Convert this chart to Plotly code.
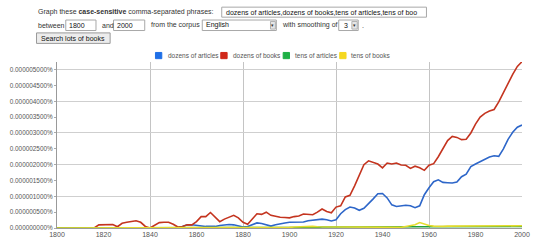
import plotly.graph_objects as go

# ---- data (values in units of 1e-6 percent) ----
years = list(range(1800, 2001, 2))

dozens_of_articles = [
    0, 0, 0, 0, 0, 0, 0, 0, 0, 0,            # 1800-1818
    0, 0, 0, 0, 0, 0, 0, 0, 0, 0,            # 1820-1838
    0, 0, 0, 0, 0, 0, 0, 0.05, 0.1, 0.1,     # 1840-1858
    0.08, 0.05, 0.05, 0.05, 0.05, 0.08, 0.1, 0.11, 0.1, 0.07,   # 1860-1878
    0.03, 0.05, 0.1, 0.16, 0.14, 0.1, 0.06, 0.1, 0.14, 0.16,    # 1880-1898
    0.18, 0.19, 0.2, 0.19, 0.23, 0.25, 0.28, 0.28, 0.26, 0.22,  # 1900-1918
    0.26, 0.45, 0.58, 0.66, 0.63, 0.56, 0.62, 0.76, 0.92, 1.08, # 1920-1938
    1.09, 0.95, 0.73, 0.68, 0.7, 0.72, 0.7, 0.64, 0.7, 1.05,    # 1940-1958
    1.27, 1.46, 1.52, 1.44, 1.43, 1.42, 1.45, 1.62, 1.7, 1.94,  # 1960-1978
    2.02, 2.1, 2.18, 2.24, 2.28, 2.26, 2.5, 2.8, 3.02, 3.18,    # 1980-1998
    3.25,                                                       # 2000
]

dozens_of_books = [
    0, 0, 0, 0, 0, 0, 0, 0, 0, 0.1,          # 1800-1818
    0.11, 0.11, 0.11, 0.04, 0.15, 0.18, 0.2, 0.23, 0.18, 0.05,  # 1820-1838
    0, 0.08, 0.17, 0.18, 0.18, 0.12, 0.03, 0.05, 0.1, 0.1,      # 1840-1858
    0.2, 0.36, 0.36, 0.49, 0.33, 0.2, 0.28, 0.35, 0.4, 0.32,    # 1860-1878
    0.18, 0.12, 0.3, 0.45, 0.43, 0.5, 0.4, 0.36, 0.34, 0.33,    # 1880-1898
    0.32, 0.36, 0.38, 0.44, 0.44, 0.42, 0.5, 0.6, 0.52, 0.48,   # 1900-1918
    0.66, 0.7, 0.98, 1.03, 1.33, 1.64, 2.0, 2.12, 2.08, 2.02,   # 1920-1938
    1.9, 2.05, 2.02, 2.05, 1.99, 1.98, 1.88, 1.95, 1.9, 1.82,   # 1940-1958
    1.98, 2.03, 2.25, 2.5, 2.76, 2.89, 2.86, 2.79, 2.8, 3.0,    # 1960-1978
    3.28, 3.5, 3.62, 3.69, 3.74, 3.98, 4.28, 4.6, 4.85, 5.1,    # 1980-1998
    5.25,                                                       # 2000
]

tens_of_articles = [
    0, 0, 0, 0, 0, 0, 0, 0, 0, 0,
    0, 0, 0, 0, 0, 0, 0, 0, 0, 0,
    0, 0, 0, 0, 0, 0, 0, 0, 0, 0,
    0.01, 0.01, 0.01, 0.02, 0.02, 0.01, 0.01, 0.02, 0.02, 0.01,
    0.02, 0.02, 0.02, 0.02, 0.02, 0.02, 0.02, 0.02, 0.02, 0.02,
    0.02, 0.02, 0.02, 0.02, 0.02, 0.02, 0.02, 0.03, 0.03, 0.03,
    0.03, 0.03, 0.03, 0.03, 0.03, 0.04, 0.04, 0.04, 0.03, 0.03,
    0.03, 0.03, 0.03, 0.03, 0.03, 0.03, 0.03, 0.03, 0.03, 0.03,
    0.03, 0.03, 0.03, 0.04, 0.04, 0.04, 0.04, 0.05, 0.05, 0.05,
    0.05, 0.05, 0.05, 0.05, 0.04, 0.04, 0.04, 0.04, 0.04, 0.05,
    0.05,
]

tens_of_books = [
    0, 0, 0, 0, 0, 0, 0, 0, 0, 0,
    0, 0, 0, 0, 0, 0, 0, 0, 0, 0,
    0, 0, 0, 0, 0, 0, 0, 0, 0, 0,
    0, 0, 0, 0, 0, 0, 0, 0, 0, 0,
    0, 0, 0, 0, 0, 0, 0.01, 0.01, 0.01, 0.01,
    0.02, 0.03, 0.04, 0.05, 0.05, 0.05, 0.04, 0.04, 0.03, 0.02,
    0.02, 0.02, 0.02, 0.02, 0.02, 0.02, 0.02, 0.02, 0.02, 0.02,
    0.02, 0.02, 0.02, 0.02, 0.02, 0.05, 0.08, 0.1, 0.17, 0.12,
    0.08, 0.06, 0.05, 0.05, 0.06, 0.06, 0.06, 0.07, 0.07, 0.07,
    0.06, 0.06, 0.06, 0.05, 0.05, 0.06, 0.06, 0.06, 0.07, 0.07,
    0.07,
]

series_names = ["dozens of articles", "dozens of books", "tens of articles", "tens of books"]
series_values = [dozens_of_articles, dozens_of_books, tens_of_articles, tens_of_books]
line_colors = ["#2d66c9", "#c4341f", "#22a03a", "#e6dc2e"]
legend_colors = ["#1f6fe6", "#d0281a", "#1db045", "#f5d820"]

x_ticks = list(range(1800, 2001, 20))
x_grid = [1840, 1880, 1920, 1960]
y_ticks = [i * 0.5 for i in range(11)]
y_grid = [1, 2, 3, 4, 5]
y_ticktext = [f"{v * 1e-6:.9f}%" for v in y_ticks]

# ---- layout geometry (pixels) ----
W, H = 540, 248
L, R, T, B = 53, 10, 62, 12
PW, PH = W - L - R, H - T - B
FONT = "Arial, Liberation Sans, sans-serif"


def px(x):
    return (x - L) / PW


def py(y):
    return (H - B - y) / PH


fig = go.Figure()
for name, vals, col in zip(series_names, series_values, line_colors):
    fig.add_trace(go.Scatter(x=years, y=vals, mode="lines", name=name,
                             line=dict(color=col, width=1.6), showlegend=False))

shapes = []
annotations = []


def text(x, y, s, size=7, color="#222", anchor="left"):
    annotations.append(dict(x=px(x), y=py(y), xref="paper", yref="paper", text=s,
                            showarrow=False, xanchor=anchor, yanchor="middle",
                            font=dict(family=FONT, size=size, color=color)))


def box(x0, y0, x1, y1, fill="white", line="#a8a8a8"):
    shapes.append(dict(type="rect", xref="paper", yref="paper",
                       x0=px(x0), x1=px(x1), y0=py(y1), y1=py(y0),
                       fillcolor=fill, line=dict(color=line, width=1), layer="above"))


# header form
text(31, 9.5, "Graph these <b>case-sensitive</b> comma-separated phrases:", 7, "#333")
box(222, 4.5, 432, 15)
text(224, 10, "dozens of articles,dozens of books,tens of articles,tens of boo", 7, "#111")

text(31, 23.5, "between", 7, "#333")
box(62, 18, 93, 29)
text(63.5, 23.5, "1800", 7, "#111")
text(97, 23.5, "and", 7, "#333")
box(111, 18, 143, 29)
text(112.5, 23.5, "2000", 7, "#111")
text(147, 23.5, "from the corpus", 7, "#333")
box(202, 18, 278, 29)
text(204, 23.5, "English", 7, "#111")
box(272, 19.5, 277, 27.5, fill="#e6e6e6", line="#b0b0b0")
text(274.5, 23.5, "▾", 5, "#333", "center")
text(282, 23.5, "with smoothing of", 7, "#333")
box(342, 18, 362, 29)
text(345, 23.5, "3", 7, "#111")
box(355.5, 19.5, 361, 27.5, fill="#e6e6e6", line="#b0b0b0")
text(358.2, 23.5, "▾", 5, "#333", "center")
text(363.5, 23.5, ".", 7, "#333")

box(32, 31.5, 107.5, 42.5, fill="#ececec", line="#9a9a9a")
text(69.8, 37, "Search lots of books", 7, "#111", "center")

# legend
legend_sq = [154, 221, 285, 343]
legend_tx = [165, 231, 295, 353]
for sx, tx, name, col in zip(legend_sq, legend_tx, series_names, legend_colors):
    box(sx, 52, sx + 6.5, 58.5, fill=col, line=col)
    text(tx, 55, name, 6.5, "#555")

fig.update_layout(
    width=W, height=H,
    margin=dict(l=L, r=R, t=T, b=B, pad=0),
    paper_bgcolor="white", plot_bgcolor="white",
    font=dict(family=FONT, size=7, color="#555"),
    shapes=shapes, annotations=annotations,
    xaxis=dict(range=[1800, 2000], tickmode="array", tickvals=x_ticks,
               ticktext=[str(v) for v in x_ticks], showgrid=False,
               showline=True, linecolor="#9a9a9a", linewidth=1,
               ticks="", tickfont=dict(size=7, color="#555"), zeroline=False,
               minor=dict(tickmode="array", tickvals=x_grid, showgrid=True,
                          gridcolor="#c4c4c4", gridwidth=1, ticks="")),
    yaxis=dict(range=[0, 5.24], tickmode="array", tickvals=y_ticks,
               ticktext=y_ticktext, showgrid=False,
               showline=True, linecolor="#9a9a9a", linewidth=1,
               ticks="outside", ticklen=2, tickcolor="#aaa",
               tickfont=dict(size=6.4, color="#555"), zeroline=False,
               minor=dict(tickmode="array", tickvals=y_grid, showgrid=True,
                          gridcolor="#cfcfcf", gridwidth=1, ticks="")),
)

fig.write_html("out.html")
